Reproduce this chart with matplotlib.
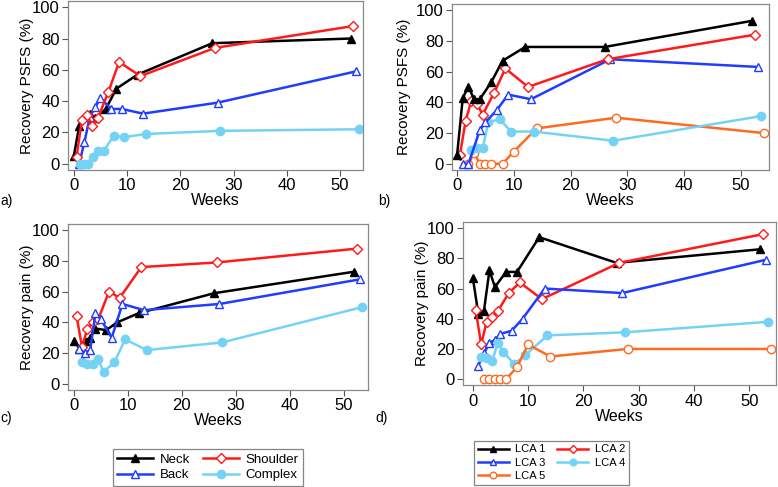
import matplotlib
matplotlib.use("Agg")
import matplotlib.pyplot as plt

plt.rcParams['font.family'] = ['Liberation Sans', 'DejaVu Sans']

# ---- a) PSFS by pain location ----
a_neck_x = [0, 1, 3, 4, 6, 8, 12, 26, 52]
a_neck_y = [5, 24, 32, 29, 35, 48, 57, 77, 80]
a_shoulder_x = [0.5, 1.5, 2.5, 3.5, 4.5, 6.5, 8.5, 12.5, 26.5, 52.5]
a_shoulder_y = [4, 28, 31, 24, 29, 46, 65, 56, 74, 88]
a_back_x = [1, 2, 3, 4, 5, 7, 9, 13, 27, 53]
a_back_y = [0, 14, 30, 36, 42, 35, 35, 32, 39, 59]
a_complex_x = [1.2, 2, 2.7, 3.6, 4.6, 5.6, 7.5, 9.5, 13.5, 27.5, 53.5]
a_complex_y = [0, 0, 0, 4, 8, 8, 18, 17, 19, 21, 22]

# ---- b) PSFS by LCA class ----
b_lca1_x = [0, 1, 2, 3, 4, 6, 8, 12, 26, 52]
b_lca1_y = [6, 43, 50, 42, 42, 53, 67, 76, 76, 93]
b_lca2_x = [0.5, 1.5, 2.5, 3.5, 4.5, 6.5, 8.5, 12.5, 26.5, 52.5]
b_lca2_y = [6, 28, 41, 39, 32, 46, 62, 50, 68, 84]
b_lca3_x = [1, 2, 4, 5, 7, 9, 13, 27, 53]
b_lca3_y = [0, 0, 22, 27, 35, 45, 42, 68, 63]
b_lca4_x = [2.5, 3.5, 4.5, 5.5, 7.5, 9.5, 13.5, 27.5, 53.5]
b_lca4_y = [9, 10, 10, 27, 29, 21, 21, 15, 31]
b_lca5_x = [2, 3, 4, 5, 6, 8, 10, 14, 28, 54]
b_lca5_y = [0, 7, 0, 0, 0, 0, 8, 23, 30, 20]

# ---- c) pain by pain location ----
c_neck_x = [0, 1, 2, 3, 4, 6, 8, 12, 26, 52]
c_neck_y = [28, 23, 28, 30, 36, 35, 40, 46, 59, 73]
c_shoulder_x = [0.5, 1.5, 2.5, 3.5, 4.5, 6.5, 8.5, 12.5, 26.5, 52.5]
c_shoulder_y = [44, 24, 36, 40, 42, 60, 56, 76, 79, 88]
c_back_x = [1, 2, 3, 4, 5, 7, 9, 13, 27, 53]
c_back_y = [23, 20, 22, 46, 42, 30, 52, 48, 52, 68]
c_complex_x = [1.5, 2.5, 3.5, 4.5, 5.5, 7.5, 9.5, 13.5, 27.5, 53.5]
c_complex_y = [14, 13, 13, 16, 8, 14, 29, 22, 27, 50]

# ---- d) pain by LCA class ----
d_lca1_x = [0, 1, 2, 3, 4, 6, 8, 12, 26, 52]
d_lca1_y = [67, 43, 45, 72, 61, 71, 71, 94, 77, 86]
d_lca2_x = [0.5, 1.5, 2.5, 3.5, 4.5, 6.5, 8.5, 12.5, 26.5, 52.5]
d_lca2_y = [46, 23, 38, 41, 45, 57, 64, 53, 77, 96]
d_lca3_x = [1, 2, 3, 4, 5, 7, 9, 13, 27, 53]
d_lca3_y = [9, 17, 24, 26, 30, 32, 40, 60, 57, 79]
d_lca4_x = [1.5, 2.5, 3.5, 4.5, 5.5, 7.5, 9.5, 13.5, 27.5, 53.5]
d_lca4_y = [15, 14, 12, 24, 18, 10, 16, 29, 31, 38]
d_lca5_x = [2, 3, 4, 5, 6, 8, 10, 14, 28, 54]
d_lca5_y = [0, 0, 0, 0, 0, 8, 23, 15, 20, 20]

BLACK = '#000000'
RED = '#ff1a1a'
BLUE = '#1f3cff'
LBLUE = '#74d3f4'
ORANGE = '#ff6a21'

tri_f = dict(marker='^', ms=6, mfc=BLACK, mec=BLACK)
dia_o = dict(marker='D', ms=5.2, mfc='white', mec=RED, mew=1.0)
tri_o = dict(marker='^', ms=6, mfc='white', mec=BLUE, mew=1.0)
circ_f = dict(marker='o', ms=6, mfc=LBLUE, mec=LBLUE)
circ_o = dict(marker='o', ms=6, mfc='white', mec=ORANGE, mew=1.0)
lw = 1.8

fig = plt.figure(figsize=(7.78, 4.87), dpi=100)
ax_a = fig.add_axes([0.0874, 0.651, 0.379, 0.347])
ax_b = fig.add_axes([0.581, 0.651, 0.407, 0.341])
ax_c = fig.add_axes([0.0874, 0.199, 0.386, 0.341])
ax_d = fig.add_axes([0.595, 0.209, 0.402, 0.335])

ax_a.plot(a_neck_x, a_neck_y, color=BLACK, lw=lw, **tri_f, label='Neck')
ax_a.plot(a_back_x, a_back_y, color=BLUE, lw=lw, **tri_o, label='Back')
ax_a.plot(a_shoulder_x, a_shoulder_y, color=RED, lw=lw, **dia_o, label='Shoulder')
ax_a.plot(a_complex_x, a_complex_y, color=LBLUE, lw=lw, **circ_f, label='Complex')

ax_b.plot(b_lca5_x, b_lca5_y, color=ORANGE, lw=lw, **circ_o)
ax_b.plot(b_lca4_x, b_lca4_y, color=LBLUE, lw=lw, **circ_f)
ax_b.plot(b_lca3_x, b_lca3_y, color=BLUE, lw=lw, **tri_o)
ax_b.plot(b_lca2_x, b_lca2_y, color=RED, lw=lw, **dia_o)
ax_b.plot(b_lca1_x, b_lca1_y, color=BLACK, lw=lw, **tri_f)

ax_c.plot(c_complex_x, c_complex_y, color=LBLUE, lw=lw, **circ_f)
ax_c.plot(c_neck_x, c_neck_y, color=BLACK, lw=lw, **tri_f)
ax_c.plot(c_shoulder_x, c_shoulder_y, color=RED, lw=lw, **dia_o)
ax_c.plot(c_back_x, c_back_y, color=BLUE, lw=lw, **tri_o)

l1, = ax_d.plot(d_lca1_x, d_lca1_y, color=BLACK, lw=lw, **tri_f)
l2, = ax_d.plot(d_lca2_x, d_lca2_y, color=RED, lw=lw, **dia_o)
l3, = ax_d.plot(d_lca3_x, d_lca3_y, color=BLUE, lw=lw, **tri_o)
l4, = ax_d.plot(d_lca4_x, d_lca4_y, color=LBLUE, lw=lw, **circ_f)
l5, = ax_d.plot(d_lca5_x, d_lca5_y, color=ORANGE, lw=lw, **circ_o)

xlims = {ax_a: (-1.1, 54.3), ax_b: (-0.9, 54.9), ax_c: (-1.1, 54.6), ax_d: (-1.8, 54.8)}
ylabels = {ax_a: 'Recovery PSFS (%)', ax_b: 'Recovery PSFS (%)',
           ax_c: 'Recovery pain (%)', ax_d: 'Recovery pain (%)'}
ypads = {ax_a: -1.5, ax_b: 3.5, ax_c: -1.5, ax_d: -1.5}
for ax in (ax_a, ax_b, ax_c, ax_d):
    ax.set_xlim(*xlims[ax])
    ax.set_ylim(-4, 104)
    ax.set_xticks([0, 10, 20, 30, 40, 50])
    ax.set_yticks([0, 20, 40, 60, 80, 100])
    ax.tick_params(labelsize=12, length=4, width=0.8, color='#555555', pad=2)
    for s in ax.spines.values():
        s.set_color('#888888')
        s.set_linewidth(0.9)
    ax.set_xlabel('Weeks', fontsize=11.5, labelpad=0)
    ax.set_ylabel(ylabels[ax], fontsize=11, labelpad=ypads[ax])

fig.text(0.0, 0.587, 'a)', fontsize=10, va='center')
fig.text(0.486, 0.587, 'b)', fontsize=10, va='center')
fig.text(0.0, 0.142, 'c)', fontsize=10, va='center')
fig.text(0.482, 0.142, 'd)', fontsize=10, va='center')

h, lab = ax_a.get_legend_handles_labels()
leg1 = fig.legend(h, lab, ncol=2, loc='lower left', bbox_to_anchor=(0.145, 0.002),
                  fontsize=9.5, frameon=True, fancybox=False, edgecolor='#666666',
                  handlelength=2.7, columnspacing=1.0, handletextpad=0.5,
                  borderpad=0.35, labelspacing=0.25, borderaxespad=0)
leg1.get_frame().set_linewidth(0.9)

# column-first fill: col 1 = LCA 1, 3, 5 ; col 2 = LCA 2, 4
leg2 = fig.legend([l1, l3, l5, l2, l4], ['LCA 1', 'LCA 3', 'LCA 5', 'LCA 2', 'LCA 4'],
                  ncol=2, loc='lower left', bbox_to_anchor=(0.609, 0.004),
                  fontsize=8, frameon=True, fancybox=False, edgecolor='#666666',
                  handlelength=2.8, columnspacing=1.0, handletextpad=0.6,
                  borderpad=0.35, labelspacing=0.3, markerscale=0.8,
                  borderaxespad=0)
leg2.get_frame().set_linewidth(0.9)

fig.savefig('out.png', dpi=100)
